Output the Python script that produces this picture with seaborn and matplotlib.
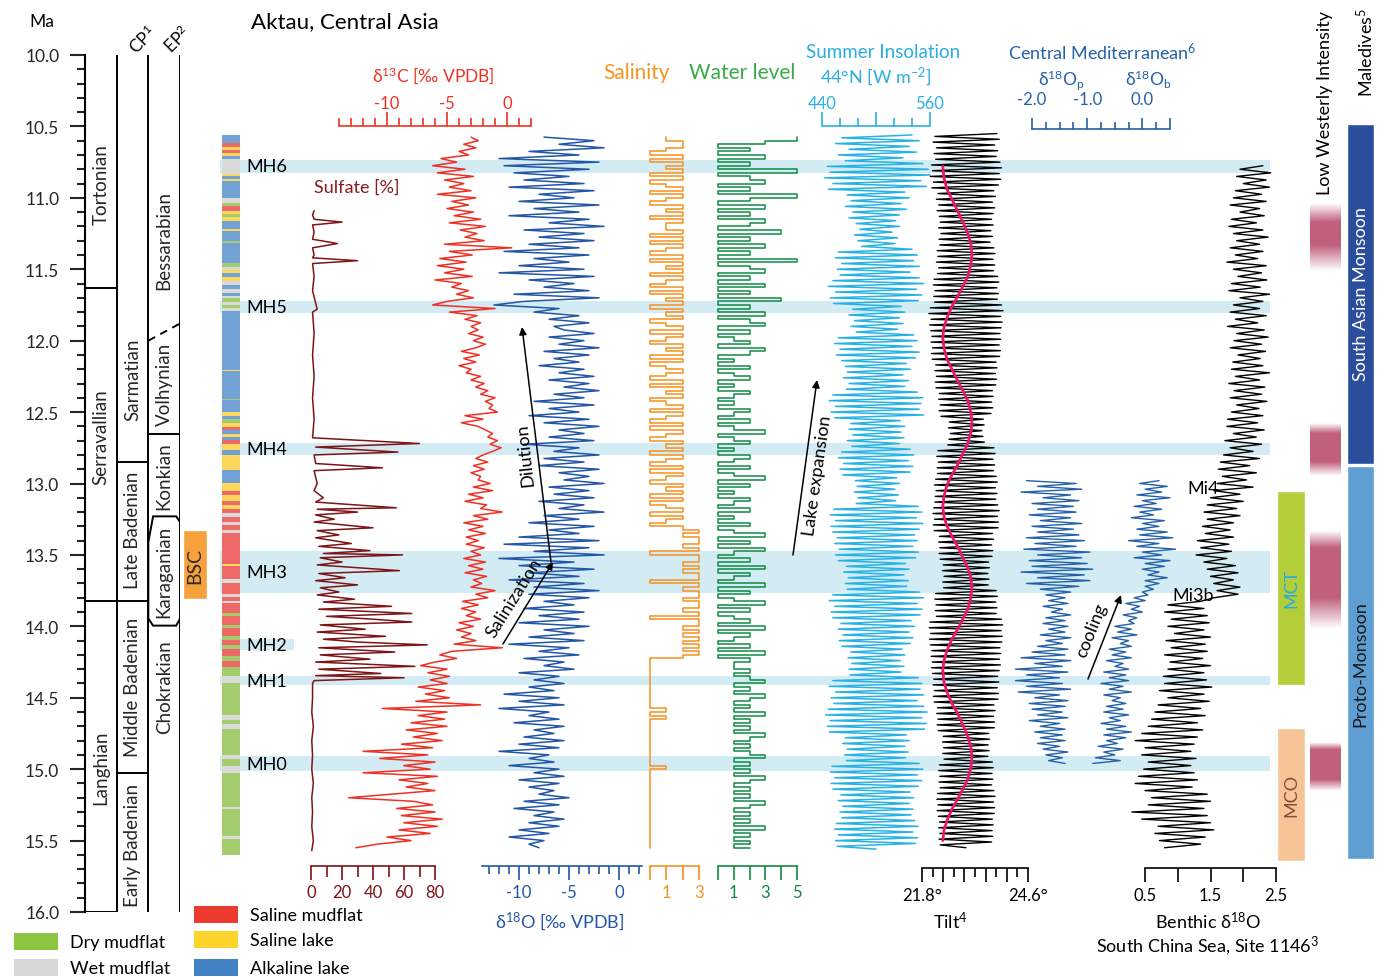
import numpy as np
import matplotlib
matplotlib.use("Agg")
import matplotlib.pyplot as plt
import seaborn as sns
from matplotlib.patches import Rectangle, Polygon
from matplotlib.ticker import FixedLocator, FixedFormatter, MultipleLocator, FormatStrFormatter

sns.set_style("white")
plt.rcParams['font.family'] = ['Lato', 'DejaVu Sans']
plt.rcParams['mathtext.default'] = 'regular'

# ---------------- data (ages in Ma) ----------------
stage_names = ["Tortonian", "Serravallian", "Langhian"]
stage_label_age = [10.90, 12.67, 14.98]
cp_names = ["Sarmatian", "Late Badenian", "Middle Badenian", "Early Badenian"]
cp_label_age = [12.27, 13.32, 14.42, 15.53]
ep_names = ["Bessarabian", "Volhynian", "Konkian", "Karaganian", "Chokrakian"]
ep_label_age = [11.29, 12.30, 12.94, 13.61, 14.42]
karaganian = (13.23, 13.995)
bsc = (13.325, 13.81)

mh_names = ["MH6", "MH5", "MH4", "MH3", "MH2", "MH1", "MH0"]
mh_top = [10.735, 11.72, 12.717, 13.473, 14.089, 14.348, 14.908]
mh_bot = [10.826, 11.806, 12.80, 13.767, 14.166, 14.411, 15.013]

# lithology: top of each layer and facies code (A alkaline lake, S saline mudflat,
# Y saline lake, D dry mudflat, W wet mudflat); base of column 15.60
lith_top = [10.557, 10.616, 10.642, 10.668, 10.687, 10.707, 10.726, 10.831, 10.850, 10.870,
            10.883, 11.000, 11.033, 11.059, 11.091, 11.111, 11.137, 11.163, 11.218, 11.235,
            11.300, 11.319, 11.456, 11.482, 11.502, 11.528, 11.554, 11.580, 11.612, 11.638,
            11.664, 11.684, 11.704, 11.730, 11.749, 11.769, 11.795, 12.205, 12.215, 12.407,
            12.417, 12.498, 12.524, 12.550, 12.576, 12.602, 12.628, 12.654, 12.674, 12.694,
            12.720, 12.765, 12.798, 12.902, 12.993, 13.052, 13.078, 13.124, 13.150, 13.182,
            13.208, 13.234, 13.273, 13.293, 13.325, 13.345, 13.563, 13.579, 13.670, 13.697,
            13.775, 13.795, 13.821, 13.840, 13.905, 13.925, 13.990, 14.010, 14.068, 14.094,
            14.133, 14.159, 14.211, 14.244, 14.283, 14.348, 14.394, 14.622, 14.654, 14.687,
            14.719, 14.899, 14.932, 14.980, 15.029, 15.265, 15.280, 15.469, 15.488]
lith_code = list("ASYSYAWYAY" "AWDSYDYAYA" "DADWYAYWAW" "AWDWDWAYAD"
                 "AYADYSAYAS" "YAYAYSYSYS" "WSWSWSYSWS" "WSWSDSDSDS"
                 "DSDSDWDWDW" "DWDWDWDWD")
lith_base = 15.60

# sulfate [%]
sulf_age = [11.09, 11.12, 11.15, 11.17, 11.19, 11.24, 11.29, 11.32, 11.35, 11.40, 11.42, 11.44,
            11.46, 11.55, 11.65, 11.78, 11.80, 11.95, 12.10, 12.25, 12.40, 12.55, 12.68, 12.72,
            12.745, 12.78, 12.80, 12.86, 12.89, 12.91, 13.00, 13.05, 13.10, 13.13, 13.17, 13.18,
            13.20, 13.22, 13.25, 13.27, 13.31, 13.33, 13.36, 13.38, 13.42, 13.44, 13.47, 13.49,
            13.50, 13.52, 13.55, 13.57, 13.61, 13.63, 13.66, 13.68, 13.71, 13.73, 13.76, 13.78,
            13.81, 13.83, 13.86, 13.88, 13.91, 13.93, 13.95, 13.97, 13.99, 14.02, 14.04, 14.07,
            14.09, 14.11, 14.13, 14.15, 14.18, 14.20, 14.23, 14.25, 14.28, 14.30, 14.33, 14.345,
            14.36, 14.38, 14.40, 14.50, 14.60, 14.70, 14.80, 14.90, 15.00, 15.10, 15.20, 15.30,
            15.40, 15.50, 15.57]
sulf_val = [2, 1, 2, 20, 1, 2, 1, 17, 1, 2, 1, 30,
            1, 2, 1, 4, 1, 2, 1, 2, 1, 2, 1, 70,
            3, 56, 2, 3, 46, 2, 4, 2, 8, 3, 55, 4,
            30, 3, 15, 2, 40, 4, 18, 3, 26, 5, 38, 8,
            59, 6, 20, 4, 57, 5, 22, 3, 30, 6, 18, 4,
            28, 8, 52, 5, 65, 10, 40, 65, 6, 35, 4, 48,
            8, 30, 75, 5, 54, 6, 38, 3, 67, 5, 45, 3,
            60, 2, 1, 1, 0.5, 1.5, 0.5, 1, 0.5, 1.5, 0.5, 1,
            0.5, 1.5, 0.5]

# d13C and d18O (Aktau), sampled every 0.025 Ma from 10.575 Ma
d13c = [-3.0, -2.4, -3.6, -2.6, -4.0, -3.2, -5.5, -4.2, -6.2, -3.5, -5.8, -2.8,
        -5.2, -3.6, -4.8, -3.0, -5.8, -2.6, -4.6, -3.2, -5.0, -2.8, -4.4, -2.2,
        -4.8, -1.8, -3.9, -2.5, -3.5, -1.9, -5.2, 0.4, -4.8, -2.9, -5.6, -3.4,
        -5.8, -3.6, -5.2, -2.9, -6.0, -3.8, -4.6, -3.2, -4.2, -2.8, -5.0, -6.2,
        -1.0, -4.8, -2.5, -3.5, -2.2, -3.0, -2.4, -3.2, -2.0, -2.8, -1.8, -2.6,
        -3.8, -2.3, -3.6, -2.6, -4.0, -3.0, -3.4, -2.2, -3.0, -1.9, -2.6, -1.6,
        -2.2, -1.0, -1.8, -1.2, -1.5, -0.8, -3.5, -2.0, -3.8, -2.4, -1.8, -1.2,
        -1.6, -0.8, -1.4, -0.5, -1.2, -2.0, -2.6, -1.6, -2.8, -1.9, -3.0, -2.2,
        -2.4, -1.4, -2.8, -1.2, -3.2, -2.0, -3.5, -1.7, -2.2, -0.4, -2.8, -1.6,
        -3.6, -2.0, -3.2, -1.8, -3.4, -2.4, -3.4, -1.9, -3.0, -2.2, -3.6, -1.8,
        -3.2, -2.0, -3.5, -1.7, -2.8, -2.1, -3.0, -1.0, -2.6, -1.6, -3.7, -2.4,
        -3.8, -2.6, -3.4, -2.2, -4.0, -2.8, -4.2, -3.0, -3.8, -2.6, -4.4, -0.4,
        -4.6, -5.6, -4.2, -6.0, -7.2, -5.0, -6.6, -4.8, -6.4, -5.0, -7.4, -5.2,
        -6.8, -4.8, -7.6, -2.2, -10.4, -5.0, -7.4, -5.2, -8.0, -5.0, -8.4, -5.8,
        -7.8, -5.4, -8.8, -6.2, -12.0, -6.6, -10.6, -6.0, -8.6, -6.4, -12.0, -5.8,
        -9.0, -6.6, -8.4, -6.0, -9.6, -13.2, -7.8, -6.2, -9.2, -6.0, -8.8, -5.4,
        -8.6, -5.8, -9.0, -6.4, -10.0, -8.0, -10.8, -12.6]
d18o = [-7.5, -2.5, -6.0, -1.5, -9.0, -4.0, -12.0, -2.0, -11.5, -3.0, -10.5, -5.0,
        -9.5, -3.5, -11.0, -2.5, -8.0, -4.5, -10.0, -2.0, -8.5, -4.0, -11.0, -3.0,
        -7.0, -1.5, -9.5, -3.5, -8.0, -2.5, -9.0, -4.0, -11.5, -3.0, -8.5, -5.0,
        -10.0, -3.5, -12.0, -2.5, -9.0, -4.5, -7.5, -3.0, -10.5, -2.0, -9.5, -12.5,
        -6.0, -8.5, -4.0, -7.0, -3.0, -6.5, -5.5, -2.5, -7.0, -3.5, -6.0, -2.0,
        -7.5, -3.0, -6.5, -4.0, -8.0, -3.5, -6.0, -2.5, -7.0, -3.0, -5.5, -2.0,
        -6.5, -3.5, -8.5, -2.5, -7.0, -4.0, -9.0, -3.0, -7.5, -2.0, -6.0, -3.5,
        -7.0, -2.5, -9.5, -4.0, -6.5, -2.0, -7.5, -3.5, -8.0, -2.0, -6.0, -3.0,
        -5.5, -1.5, -7.0, -3.0, -6.5, -2.5, -8.0, -3.5, -6.0, -1.5, -7.5, -4.0,
        -9.0, -2.5, -7.0, -4.0, -10.0, -2.0, -11.5, -3.0, -8.5, -1.5, -12.0, -4.5,
        -10.0, -2.5, -9.0, -4.0, -11.0, -3.5, -8.5, -2.0, -9.0, -3.0, -7.5, -4.5,
        -9.5, -3.5, -8.0, -4.0, -10.0, -3.0, -7.5, -4.5, -9.0, -3.5, -11.0, -5.0,
        -8.0, -4.0, -9.5, -5.5, -7.5, -4.5, -10.0, -6.0, -8.5, -5.5, -9.0, -6.5,
        -11.5, -6.0, -10.0, -5.5, -12.0, -7.0, -9.0, -6.0, -10.5, -5.5, -8.5, -6.5,
        -9.5, -5.5, -10.0, -6.0, -12.0, -7.0, -9.0, -6.5, -11.0, -6.0, -8.5, -5.5,
        -10.0, -6.0, -9.0, -6.5, -8.0, -5.0, -9.5, -6.0, -10.5, -6.5, -8.5, -5.5,
        -9.0, -6.0, -10.0, -7.0, -11.0, -7.5, -9.0, -8.0]

# salinity and water level (step series), every 0.025 Ma from 10.575 Ma
salinity = [1, 2, 2, 1, 0, 2, 0, 2, 1, 2, 0, 2, 0, 1, 2, 0, 2, 1, 0, 2,
            1, 2, 0, 2, 1, 1, 2, 0, 2, 0, 2, 1, 0, 2, 0, 2, 1, 2, 0, 2,
            1, 0, 2, 0, 2, 1, 2, 0, 2, 1,
            2, 0, 1, 2, 0, 2, 1, 0, 2, 1, 2, 0, 2, 0, 1, 2, 1, 0, 2, 0,
            2, 1, 2, 0, 1, 2, 0, 2, 1, 0, 2, 0, 2, 1, 0, 2, 1, 2, 0, 2,
            1, 0, 2, 0, 2, 1, 0, 2, 1, 2, 0, 2, 0, 1, 2, 0, 2, 1, 0, 2,
            3, 2, 3, 3, 2, 3, 0, 3, 3, 2, 3, 2, 3, 3, 0, 3, 2, 3, 3, 2,
            3, 3, 2, 3, 0, 3, 3, 2, 3, 2, 3, 2, 3, 2, 3, 2, 0, 0,
            0, 0, 0, 0, 0, 0, 0, 0, 0, 0, 0, 0, 1, 0, 1, 0, 0, 0, 0, 0,
            0, 0, 0, 0, 0, 0, 0, 0, 1, 0, 0, 0, 0, 0, 0, 0, 0, 0, 0, 0,
            0, 0, 0, 0, 0, 0, 0, 0, 0, 0, 0, 0]
water = [5, 3, 0, 2, 0, 3, 0, 2, 0, 5, 0, 2, 3, 0, 2, 0, 5, 2, 0, 3,
         0, 2, 0, 3, 2, 0, 4, 0, 2, 0, 3, 0, 2, 0, 5, 0, 2, 3, 0, 2,
         0, 3, 0, 2, 0, 4, 0, 2, 0, 3,
         0, 2, 3, 0, 2, 0, 1, 2, 0, 3, 2, 0, 1, 0, 2, 0, 1, 2, 0, 1,
         0, 2, 1, 0, 1, 0, 2, 1, 0, 2, 0, 1, 3, 0, 1, 2, 0, 1, 0, 2,
         1, 0, 2, 0, 1, 3, 0, 2, 0, 1, 0, 2, 1, 0, 2, 0, 1, 0, 2, 0,
         1, 3, 0, 2, 0, 3, 1, 0, 2, 0, 3, 0, 2, 1, 0, 3, 0, 2, 0, 1,
         3, 0, 2, 0, 1, 2, 0, 3, 0, 2, 1, 0, 2, 0, 3, 0, 2, 1,
         1, 2, 1, 2, 3, 1, 2, 1, 3, 2, 1, 2, 1, 3, 1, 2, 1, 2, 1, 3,
         2, 1, 2, 1, 2, 3, 1, 2, 1, 2, 1, 3, 2, 1, 2, 1, 2, 1, 3, 2,
         1, 2, 1, 2, 1, 3, 1, 2, 1, 2, 1, 2]

# summer insolation 44N [W m-2], every 0.02 Ma from 10.56 Ma
insolation = [540, 462, 548, 455, 537, 470, 545, 458, 530, 466,
              552, 446, 558, 449, 560, 443, 550, 452, 556, 447,
              532, 468, 537, 472, 528, 466, 534, 474, 526, 470,
              522, 478, 526, 482, 518, 476, 524, 480, 521, 484,
              540, 458, 546, 455, 542, 462, 548, 457, 538, 460,
              548, 452, 553, 447, 545, 455, 551, 449, 547, 453,
              528, 474, 532, 470, 526, 476, 530, 472, 524, 478,
              542, 458, 546, 454, 540, 460, 548, 456, 544, 462,
              534, 466, 538, 468, 530, 464, 536, 470, 532, 467,
              546, 452, 552, 448, 550, 455, 548, 450, 553, 454,
              527, 472, 532, 470, 528, 474, 531, 468, 526, 473,
              538, 462, 542, 458, 536, 464, 541, 460, 538, 463,
              523, 477, 526, 479, 521, 476, 525, 480, 522, 478,
              547, 453, 551, 449, 545, 455, 552, 450, 548, 452,
              543, 457, 546, 454, 541, 459, 547, 455, 544, 458,
              533, 467, 537, 464, 531, 469, 536, 466, 534, 468,
              548, 452, 553, 448, 546, 454, 551, 450, 549, 452,
              539, 461, 543, 458, 537, 463, 541, 459, 538, 462,
              529, 472, 532, 469, 527, 473, 531, 470, 528, 471,
              547, 452, 551, 448, 549, 455, 553, 450, 546, 453,
              553, 447, 557, 444, 551, 449, 556, 446, 554, 448,
              534, 466, 537, 463, 532, 468, 536, 465, 533, 467,
              548, 451, 552, 449, 546, 454, 551, 450, 547, 452,
              538, 461, 542, 458, 537, 463, 541, 460, 539, 462,
              543, 456, 547, 454, 541, 458, 546, 455, 544, 457, 500]

# obliquity [deg], every 0.02 Ma from 10.55 Ma
tilt = [23.78, 22.14, 23.84, 22.09, 23.72, 22.18, 23.80, 22.12, 23.76, 22.16,
        23.86, 22.05, 23.90, 22.08, 23.84, 22.02, 23.88, 22.10, 23.82, 22.06,
        23.70, 22.22, 23.74, 22.18, 23.66, 22.24, 23.72, 22.20, 23.68, 22.26,
        23.64, 22.28, 23.68, 22.24, 23.62, 22.30, 23.66, 22.25, 23.60, 22.27,
        23.70, 22.20, 23.73, 22.22, 23.68, 22.18, 23.72, 22.24, 23.69, 22.21,
        23.80, 22.12, 23.83, 22.10, 23.78, 22.14, 23.82, 22.11, 23.79, 22.13,
        23.90, 22.02, 23.94, 21.98, 23.88, 22.04, 23.92, 22.00, 23.89, 22.03,
        23.86, 22.06, 23.88, 22.04, 23.84, 22.08, 23.87, 22.05, 23.85, 22.07,
        23.76, 22.16, 23.78, 22.14, 23.74, 22.18, 23.77, 22.15, 23.75, 22.17,
        23.66, 22.26, 23.68, 22.24, 23.64, 22.28, 23.67, 22.25, 23.62, 22.30,
        23.42, 22.52, 23.44, 22.50, 23.38, 22.55, 23.41, 22.51, 23.45, 22.48,
        23.70, 22.22, 23.73, 22.19, 23.68, 22.23, 23.72, 22.20, 23.69, 22.21,
        23.76, 22.16, 23.79, 22.13, 23.74, 22.17, 23.78, 22.15, 23.75, 22.14,
        23.80, 22.11, 23.84, 22.09, 23.79, 22.13, 23.82, 22.10, 23.81, 22.12,
        23.66, 22.26, 23.69, 22.24, 23.64, 22.27, 23.67, 22.25, 23.65, 22.28,
        23.56, 22.36, 23.58, 22.34, 23.54, 22.38, 23.57, 22.35, 23.55, 22.37,
        23.76, 22.16, 23.79, 22.14, 23.75, 22.17, 23.78, 22.15, 23.76, 22.18,
        23.90, 22.01, 23.93, 21.99, 23.89, 22.03, 23.92, 22.00, 23.91, 22.02,
        23.86, 22.06, 23.88, 22.04, 23.85, 22.07, 23.87, 22.05, 23.84, 22.08,
        23.80, 22.11, 23.83, 22.09, 23.79, 22.13, 23.82, 22.10, 23.81, 22.12,
        23.70, 22.21, 23.73, 22.19, 23.69, 22.22, 23.72, 22.20, 23.71, 22.23,
        23.56, 22.36, 23.58, 22.34, 23.55, 22.37, 23.57, 22.35, 23.54, 22.38,
        23.66, 22.26, 23.68, 22.24, 23.65, 22.27, 23.67, 22.25, 23.64, 22.28,
        23.70, 22.21, 23.73, 22.19, 23.69, 22.22, 23.72, 22.20, 23.71, 22.23,
        23.66, 22.26, 23.68, 22.24, 23.65, 22.27, 23.67, 22.25, 23.64, 22.28, 22.96]

# long-period obliquity trend (pink)
tilt_trend_age = [10.78, 10.86, 10.94, 11.01, 11.09, 11.17, 11.25, 11.32, 11.40,
                  11.47, 11.55, 11.62, 11.69, 11.76, 11.84, 11.91, 11.98,
                  12.05, 12.13, 12.20, 12.28, 12.35, 12.42, 12.50, 12.57,
                  12.64, 12.72, 12.79, 12.87, 12.94, 13.01, 13.09, 13.16,
                  13.23, 13.30, 13.37, 13.44, 13.52, 13.59, 13.66, 13.73,
                  13.80, 13.88, 13.95, 14.02, 14.09, 14.17, 14.24, 14.31,
                  14.39, 14.46, 14.54, 14.61, 14.69, 14.77, 14.84, 14.92,
                  14.99, 15.07, 15.14, 15.21, 15.28, 15.36, 15.43, 15.50]
tilt_trend = [22.35, 22.38, 22.46, 22.59, 22.74, 22.88, 23.01, 23.09, 23.12,
              23.09, 23.01, 22.88, 22.74, 22.59, 22.46, 22.38, 22.35,
              22.38, 22.46, 22.59, 22.74, 22.88, 23.01, 23.09, 23.12,
              23.09, 23.01, 22.88, 22.74, 22.59, 22.46, 22.38, 22.35,
              22.38, 22.46, 22.59, 22.74, 22.88, 23.01, 23.09, 23.12,
              23.09, 23.01, 22.88, 22.74, 22.59, 22.46, 22.38, 22.35,
              22.38, 22.46, 22.59, 22.74, 22.88, 23.01, 23.09, 23.12,
              23.09, 23.01, 22.88, 22.74, 22.59, 22.46, 22.38, 22.35]

# Central Mediterranean d18O planktic / benthic, every 0.02 Ma from 12.98 Ma
med_p = [-2.1, -1.2, -1.9, -1.1, -2.2, -1.3, -1.8, -1.15, -2.0, -1.25,
         -1.9, -1.2, -2.05, -1.3, -1.85, -1.1, -2.0, -1.25, -1.9, -1.15,
         -2.1, -1.05, -1.95, -1.2, -2.15, -0.95, -1.9, -1.1, -2.05, -1.0,
         -2.0, -0.9, -2.2, -1.05, -1.9, -0.95, -2.1, -1.15, -1.85, -1.3,
         -1.75, -1.4, -1.7, -1.35, -1.8, -1.45, -1.65, -1.3, -1.75, -1.4,
         -1.8, -1.35, -1.7, -1.4, -1.85, -1.3, -1.75, -1.45, -1.9, -1.35,
         -2.0, -1.4, -2.2, -1.3, -1.95, -1.45, -2.3, -1.35, -2.1, -1.5,
         -2.3, -1.45, -2.1, -1.3, -2.25, -1.5, -1.95, -1.35, -2.05, -1.4,
         -2.0, -1.45, -1.9, -1.35, -2.05, -1.5, -1.85, -1.4, -1.95, -1.45,
         -1.85, -1.4, -1.9, -1.5, -1.8, -1.35, -1.75, -1.45, -1.7, -1.4]
med_b = [0.3, -0.05, 0.45, 0.05, 0.35, -0.1, 0.5, 0.0, 0.25, -0.15,
         0.35, -0.05, 0.2, -0.2, 0.4, 0.0, 0.3, -0.1, 0.45, -0.05,
         0.55, -0.25, 0.3, -0.1, 0.6, 0.0, 0.35, -0.15, 0.5, 0.05,
         0.4, 0.0, 0.3, 0.1, 0.45, 0.05, 0.3, 0.05, 0.2, 0.0,
         0.1, -0.15, 0.05, -0.3, -0.05, -0.2, 0.0, -0.35, -0.1, -0.25,
         -0.15, -0.5, -0.2, -0.45, -0.1, -0.55, -0.25, -0.4, -0.2, -0.6,
         -0.3, -0.55, -0.2, -0.65, -0.35, -0.5, -0.25, -0.7, -0.3, -0.6,
         -0.25, -0.75, -0.35, -0.6, -0.2, -0.7, -0.4, -0.55, -0.3, -0.65,
         -0.35, -0.7, -0.25, -0.6, -0.4, -0.75, -0.3, -0.65, -0.2, -0.7,
         -0.3, -0.65, -0.45, -0.8, -0.35, -0.7, -0.5, -0.85, -0.4, -0.9]

# South China Sea benthic d18O, every 0.025 Ma from 10.775 Ma
benthic = [2.30, 1.95, 2.42, 1.90, 2.35, 2.00, 2.40, 1.88,
           2.28, 1.85, 2.35, 1.80, 2.25, 1.95, 2.32, 1.82,
           2.20, 1.78, 2.30, 1.85, 2.38, 1.90, 2.25, 1.80,
           2.30, 1.88, 2.22, 1.75, 2.35, 1.85, 2.28, 1.92,
           2.36, 1.82, 2.26, 1.78, 2.40, 1.95, 2.30, 1.85,
           2.25, 1.80, 2.35, 1.88, 2.22, 1.76, 2.32, 1.90,
           2.38, 1.86, 2.28, 1.80, 2.34, 1.92, 2.26, 1.84,
           2.30, 1.82, 2.40, 1.88, 2.25, 1.78, 2.33, 1.86,
           2.28, 1.80, 2.36, 1.90, 2.24, 1.82, 2.30, 1.76,
           2.22, 1.75, 2.32, 1.85, 2.20, 1.72, 2.28, 1.80,
           2.15, 1.70, 2.25, 1.65, 2.10, 1.62, 2.20, 1.68,
           2.05, 1.60, 2.15, 1.55, 1.95, 1.50, 2.00, 1.45,
           1.90, 1.40, 1.95, 1.45, 1.85, 1.38, 1.80, 1.42,
           1.85, 1.30, 1.78, 1.35, 1.82, 1.28, 1.75, 1.40,
           1.88, 1.45, 1.92, 1.50, 1.85, 1.55, 1.95, 1.60,
           1.92, 1.55, 1.35, 0.85, 1.40, 0.80, 1.45, 0.90,
           1.48, 0.85, 1.40, 0.95, 1.50, 0.82, 1.42, 0.90,
           1.45, 0.80, 1.38, 0.88, 1.50, 0.85, 1.40, 0.78,
           1.44, 0.80, 1.52, 0.72, 1.40, 0.85, 1.48, 0.70,
           1.35, 0.65, 1.42, 0.60, 1.30, 0.55, 1.38, 0.45,
           1.30, 0.35, 1.25, 0.50, 1.20, 0.45, 1.28, 0.55,
           1.20, 0.48, 1.25, 0.40, 1.30, 0.35, 1.22, 0.50,
           1.45, 0.60, 1.50, 0.55, 1.40, 0.30, 1.45, 0.45,
           1.50, 0.70, 1.55, 0.65, 1.42, 0.72, 1.35, 0.80]

# climate-state bars
mct = (13.05, 14.41)
mco = (14.71, 15.64)
westerly_low = [(11.04, 11.17, 11.33, 11.51), (12.58, 12.65, 12.85, 12.95),
                (13.33, 13.45, 13.80, 14.02), (14.81, 14.86, 15.07, 15.15)]
monsoon = [(10.483, 12.864), (12.878, 15.63)]

# ---------------- styling ----------------
W, H = 1384, 978
Y_TOP, Y_BOT = 56, 913        # pixel rows of 10.0 and 16.0 Ma
facies_col = {'A': '#72a1d5', 'S': '#ef6868', 'Y': '#fdd65c', 'D': '#a5cc6c', 'W': '#dadbd9'}
facies_leg = {'A': '#4281c3', 'S': '#ec3a2f', 'Y': '#fcd42c', 'D': '#8cc540', 'W': '#d8d9d7'}
C_SULF, C_C13, C_O18 = '#7d1416', '#ee3124', '#2356a6'
C_SAL, C_WAT, C_INS = '#f7901e', '#0f8a44', '#27b2e6'
C_MED, C_PINK = '#2461a8', '#e8186d'

fig = plt.figure(figsize=(W / 100, H / 100), dpi=100)


def px_axes(x0, x1, zorder=2):
    ax = fig.add_axes([x0 / W, 1 - Y_BOT / H, (x1 - x0) / W, (Y_BOT - Y_TOP) / H], zorder=zorder)
    ax.set_facecolor('none')
    return ax


def age_of(py):
    return 10.0 + (py - Y_TOP) / (Y_BOT - Y_TOP) * 6.0


def make_track(x0, x1, vmin, vmax, side, ruler_py, color, major, labels, minor,
               major_len=10, minor_len=5.5, pad=3):
    ax = px_axes(x0, x1)
    ax.set_xlim(vmin, vmax)
    ax.set_ylim(16.0, 10.0)
    for s in ax.spines.values():
        s.set_visible(False)
    sp = ax.spines[side]
    sp.set_visible(True)
    sp.set_position(('data', age_of(ruler_py)))
    sp.set_color(color)
    sp.set_linewidth(1.2)
    ax.set_yticks([])
    ax.xaxis.set_major_locator(FixedLocator(major))
    ax.xaxis.set_major_formatter(FixedFormatter(labels))
    ax.xaxis.set_minor_locator(FixedLocator(minor))
    top = side == 'top'
    ax.tick_params(axis='x', which='both', direction='out', color=color, labelcolor=color,
                   width=1.2, labelsize=12, top=top, labeltop=top, bottom=not top,
                   labelbottom=not top, pad=pad)
    ax.tick_params(axis='x', which='major', length=major_len)
    ax.tick_params(axis='x', which='minor', length=minor_len)
    return ax


def draw(ax, vals, ages, color, lw=1.0, **kw):
    sns.lineplot(x=np.asarray(vals, float), y=np.asarray(ages, float), orient='y', sort=False,
                 estimator=None, ax=ax, color=color, lw=lw, clip_on=False, **kw)
    ax.set_xlabel('')
    ax.set_ylabel('')


def grid(start, step, n):
    return start + step * np.arange(n)


# ---------- MH bands ----------
band = px_axes(220, 1270, zorder=0)
band.set_xlim(0, 1)
band.set_ylim(16.0, 10.0)
band.axis('off')
for name, t, b in zip(mh_names, mh_top, mh_bot):
    band.axhspan(t, b, xmin=0, xmax=0.07 if name == "MH2" else 1.0, color='#d3ecf3', lw=0)

# ---------- stratigraphic columns + age axis ----------
st = px_axes(85, 180)
st.set_xlim(0, 3)
st.set_ylim(16.0, 10.0)
for s in ['top', 'right', 'bottom']:
    st.spines[s].set_visible(False)
st.spines['left'].set_linewidth(1.5)
st.spines['left'].set_color('k')
st.set_xticks([])
st.yaxis.set_major_locator(MultipleLocator(0.5))
st.yaxis.set_minor_locator(MultipleLocator(0.1))
st.yaxis.set_major_formatter(FormatStrFormatter('%.1f'))
st.tick_params(axis='y', which='both', left=True, direction='out', width=1.5, labelsize=12.5, pad=8)
st.tick_params(axis='y', which='major', length=10.5)
st.tick_params(axis='y', which='minor', length=6)
kw_line = dict(color='k', lw=1.4)
st.vlines([1, 2, 3], 10.0, 16.0, **kw_line)
st.hlines([11.63, 16.0], 0, 1, **kw_line)
st.hlines([13.82], 0, 2, **kw_line)
st.hlines([12.85, 15.03], 1, 2, **kw_line)
st.hlines([12.65], 2, 3, **kw_line)
st.plot([2, 3], [12.00, 11.88], color='k', lw=1.4, ls=(0, (4, 3)))
k0, k1 = karaganian
st.add_patch(Polygon([(2.15, k0), (2.88, k0), (3.0, k0 + 0.04), (3.0, k1 - 0.05), (2.88, k1),
                      (2.15, k1), (2.0, k1 - 0.05), (2.0, k0 + 0.18)], closed=True,
                     facecolor='white', edgecolor='k', lw=1.4, zorder=3))
for col, names, ages in [(0.5, stage_names, stage_label_age), (1.5, cp_names, cp_label_age),
                         (2.5, ep_names, ep_label_age)]:
    for n, a in zip(names, ages):
        st.text(col, a, n, rotation=90, ha='center', va='center', fontsize=13.5, zorder=4)
st.bar(3.47, bsc[1] - bsc[0], bottom=bsc[0], width=0.75, color='#f7a13c', clip_on=False)
st.text(3.47, sum(bsc) / 2, "BSC", rotation=90, ha='center', va='center', fontsize=14,
        color='#2a2a2a', clip_on=False)

# ---------- lithology column ----------
lith = px_axes(222, 240)
lith.set_xlim(0, 1)
lith.set_ylim(16.0, 10.0)
lith.axis('off')
bases = lith_top[1:] + [lith_base]
lith.bar(0.5, np.subtract(bases, lith_top), bottom=lith_top, width=1.0,
         color=[facies_col[c] for c in lith_code], lw=0)

# ---------- tracks ----------
ax = make_track(311, 435, 0, 80, 'bottom', 867, C_SULF, [0, 20, 40, 60, 80],
                ['0', '20', '40', '60', '80'], [10, 30, 50, 70], major_len=10, minor_len=8)
draw(ax, sulf_val, sulf_age, C_SULF, lw=1.1)

ax = make_track(339, 531, -14, 2, 'top', 127, C_C13, [-10, -5, 0], ['-10', '-5', '0'],
                list(range(-14, 3)), major_len=10, minor_len=5.5, pad=1)
draw(ax, d13c, grid(10.575, 0.025, len(d13c)), C_C13, lw=1.1)

ax = make_track(482, 642, -13.7, 2.3, 'bottom', 867, C_O18, [-10, -5, 0], ['-10', '-5', '0'],
                list(range(-13, 3)), major_len=10, minor_len=5.5)
draw(ax, d18o, grid(10.575, 0.025, len(d18o)), C_O18, lw=1.1)

ax = make_track(650, 699, 0, 3, 'bottom', 867, C_SAL, [0, 1, 2, 3], ['', '1', '', '3'], [],
                major_len=10)
draw(ax, salinity, grid(10.575, 0.025, len(salinity)), C_SAL, lw=1.1, drawstyle='steps-pre')

ax = make_track(718, 797, 0, 5, 'bottom', 867, C_WAT, [0, 1, 2, 3, 4, 5],
                ['', '1', '', '3', '', '5'], [], major_len=10)
draw(ax, water, grid(10.575, 0.025, len(water)), C_WAT, lw=1.1, drawstyle='steps-pre')

ax = make_track(822, 930, 440, 560, 'top', 127, C_INS, [440, 500, 560], ['440', '', '560'],
                [460, 480, 520, 540], major_len=10, minor_len=5.5, pad=1)
draw(ax, insolation, grid(10.56, 0.02, len(insolation)), C_INS, lw=1.1)

ax = make_track(922, 1028, 21.8, 24.6, 'bottom', 869, 'k',
                [21.8, 22.36, 22.92, 23.48, 24.04, 24.6], ['21.8°', '', '', '', '', '24.6°'],
                [22.08, 22.64, 23.2, 23.76, 24.32], major_len=10, minor_len=6.5, pad=4)
draw(ax, tilt, grid(10.55, 0.02, len(tilt)), 'k', lw=1.0)
draw(ax, tilt_trend, tilt_trend_age, C_PINK, lw=2.0)

ax = make_track(1032, 1170, -2.0, 0.5, 'top', 130, C_MED, [-2.0, -1.0, 0.0, 0.5],
                ['-2.0', '-1.0', '0.0', ''], [-1.75, -1.5, -1.25, -0.75, -0.5, -0.25, 0.25],
                major_len=8, minor_len=5, pad=8)
draw(ax, med_p, grid(12.98, 0.02, len(med_p)), C_MED, lw=1.0)
draw(ax, med_b, grid(12.98, 0.02, len(med_b)), C_MED, lw=1.0)

ax = make_track(1145, 1276, 0.5, 2.5, 'bottom', 869, 'k', [0.5, 1.0, 1.5, 2.0, 2.5],
                ['0.5', '', '1.5', '', '2.5'], [], major_len=10, pad=4)
draw(ax, benthic, grid(10.775, 0.025, len(benthic)), 'k', lw=1.0)

# ---------- climate-state bars ----------
side = px_axes(1277, 1374)
side.axis('off')
side.bar(1291, mct[1] - mct[0], bottom=mct[0], width=28, color='#b4ce3a')
side.bar(1291, mco[1] - mco[0], bottom=mco[0], width=28, color='#f6c497')
side.bar(1360.5, monsoon[0][1] - monsoon[0][0], bottom=monsoon[0][0], width=27, color='#2b4e9c')
side.bar(1360.5, monsoon[1][1] - monsoon[1][0], bottom=monsoon[1][0], width=27, color='#5f9ed3')
for f0, s0, s1, f1 in westerly_low:
    a = np.linspace(f0, f1, 120)
    alpha = np.clip(np.minimum((a - f0) / (s0 - f0), (f1 - a) / (f1 - s1)), 0, 1)
    img = np.zeros((len(a), 1, 4))
    img[:, 0, :3] = np.array([192, 96, 122]) / 255
    img[:, 0, 3] = alpha
    side.imshow(img, extent=(1310, 1341, f1, f0), origin='upper', aspect='auto',
                interpolation='bilinear')
side.set_xlim(1277, 1374)
side.set_ylim(16.0, 10.0)
side.text(1291, sum(mct) / 2, "MCT", rotation=90, ha='center', va='center', fontsize=13,
          color='#27a9e1')
side.text(1291, sum(mco) / 2, "MCO", rotation=90, ha='center', va='center', fontsize=13,
          color='#8a4a38')
side.text(1360.5, 11.67, "South Asian Monsoon", rotation=90, ha='center', va='center',
          fontsize=13, color='white')
side.text(1360.5, 14.26, "Proto-Monsoon", rotation=90, ha='center', va='center',
          fontsize=13, color='#1a1a1a')

# ---------- canvas for text, arrows and legend ----------
cv = fig.add_axes([0, 0, 1, 1], zorder=10)
cv.set_xlim(0, W)
cv.set_ylim(H, 0)
cv.axis('off')
cv.set_facecolor('none')


def t(x, y, s, size=13, color='k', **kw):
    cv.text(x, y, s, fontsize=size, color=color, ha=kw.pop('ha', 'center'),
            va=kw.pop('va', 'center'), **kw)


t(251, 22, "Aktau, Central Asia", size=16, ha='left')
t(42, 22, "Ma", size=12.5)
t(143, 40, "CP$^1$", size=12.5, rotation=45)
t(177, 40, "EP$^2$", size=12.5, rotation=45)
t(433, 76, "δ$^{13}$C [‰ VPDB]", size=12.5, color=C_C13)
t(357, 188, "Sulfate [%]", size=13, color='#8b1a1a')
t(637, 73, "Salinity", size=15, color='#f7941d')
t(742, 73, "Water level", size=15, color='#3aaa48')
t(883, 52, "Summer Insolation", size=13.5, color='#29aee3')
t(876, 77, "44°N [W m$^{-2}$]", size=13, color='#29aee3')
t(1102, 52, "Central Mediterranean$^6$", size=13, color=C_MED)
t(1061, 80, "δ$^{18}$O$_p$", size=12.5, color=C_MED)
t(1148, 80, "δ$^{18}$O$_b$", size=12.5, color=C_MED)
t(560, 922, "δ$^{18}$O [‰ VPDB]", size=13, color=C_O18)
t(950, 922, "Tilt$^4$", size=13)
t(1208, 922, "Benthic δ$^{18}$O", size=13)
t(1208, 946, "South China Sea, Site 1146$^3$", size=13)
t(1203, 489, "Mi4", size=13)
t(1193, 596, "Mi3b", size=13)
t(1325, 103, "Low Westerly Intensity", size=13, rotation=90)
t(1366, 52, "Maledives$^5$", size=13, rotation=90)
for name, tp, bt in zip(mh_names, mh_top, mh_bot):
    yc = Y_TOP + ((tp + bt) / 2 - 10.0) / 6.0 * (Y_BOT - Y_TOP)
    t(246, yc, name, size=13, ha='left')

arrows = [((551, 563), (522, 328), "Dilution", (525, 455), 96),
          ((503, 645), (553, 563), "Salinization", (514, 598), 58),
          ((793, 556), (817, 381), "Lake expansion", (818, 476), 82),
          ((1088, 680), (1121, 596), "cooling", (1091, 631), 68)]
for start, end, label, pos, rot in arrows:
    cv.annotate('', xy=end, xytext=start,
                arrowprops=dict(arrowstyle='-|>', color='k', lw=1.1, mutation_scale=11,
                                shrinkA=0, shrinkB=0))
    t(pos[0], pos[1], label, size=13, rotation=rot, rotation_mode='anchor')

legend_items = [('D', "Dry mudflat", 14, 934), ('W', "Wet mudflat", 14, 960),
                ('S', "Saline mudflat", 194, 907), ('Y', "Saline lake", 194, 932),
                ('A', "Alkaline lake", 194, 960)]
for code, label, x, y in legend_items:
    cv.add_patch(Rectangle((x, y), 44, 17, color=facies_leg[code], lw=0))
    t(x + 56, y + 9, label, size=13, ha='left')

fig.savefig("out.png", dpi=100)
